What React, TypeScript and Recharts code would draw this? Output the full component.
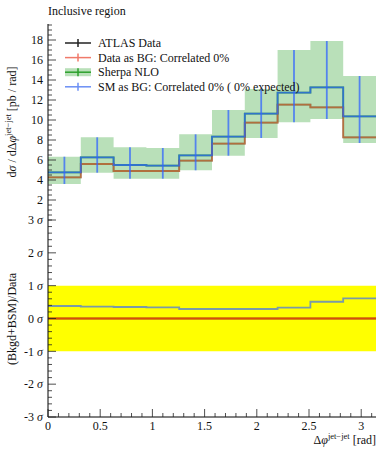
import React from "react";
import { ComposedChart, Line, Area, Scatter, ErrorBar, XAxis, YAxis, ReferenceArea } from "recharts";

// bin edges in delta phi (rad), 10 bins up to pi
const edges = [0, 0.3142, 0.6283, 0.9425, 1.2566, 1.5708, 1.885, 2.1991, 2.5133, 2.8274, 3.1416];
const centers = [0.1571, 0.4712, 0.7854, 1.0996, 1.4137, 1.7279, 2.042, 2.3562, 2.6704, 2.9845];

// upper panel, pb / rad
const atlas = [4.27, 5.6, 4.9, 4.9, 5.93, 7.63, 9.73, 11.53, 11.27, 8.27];
const sherpa = [4.77, 6.27, 5.5, 5.43, 6.47, 8.33, 10.63, 12.73, 13.27, 10.37];
const sherpaLo = [3.6, 4.73, 4.13, 4.13, 4.97, 6.43, 8.2, 9.77, 10.1, 7.7];
const sherpaHi = [6.33, 8.27, 7.27, 7.2, 8.57, 11.0, 13.1, 17.0, 17.9, 14.4];

// lower panel, significance
const dataAsBgSig = [0, 0, 0, 0, 0, 0, 0, 0, 0, 0];
const smAsBgSig = [0.38, 0.36, 0.35, 0.34, 0.29, 0.29, 0.29, 0.33, 0.51, 0.61];

const upperMajor = [2, 4, 6, 8, 10, 12, 14, 16, 18];
const lowerMajor = [-3, -2, -1, 0, 1, 2, 3];
const xMajor = [0, 0.5, 1, 1.5, 2, 2.5, 3];

const upperTicks = Array.from({ length: 40 }, (_, i) => i * 0.5);
const lowerTicks = Array.from({ length: 31 }, (_, i) => Math.round((-3 + i * 0.2) * 10) / 10);
const xTicks = Array.from({ length: 32 }, (_, i) => Math.round(i) / 10);

const FONT = "'Liberation Serif', 'DejaVu Serif', serif";
const TXT = { fontFamily: FONT };
const RED = "#e8702a";
const BLUE = "#3366ff";
const GREEN = "#2ca02c";
const PI = 3.1416;

const pick = (arr: number[], i: number) => arr[Math.min(i, arr.length - 1)];

const upperRows = edges.map((x, i) => ({
  x,
  atlas: pick(atlas, i),
  sherpa: pick(sherpa, i),
  band: [pick(sherpaLo, i), pick(sherpaHi, i)],
}));
const upperErr = centers.map((x, i) => ({
  x,
  y: sherpa[i],
  err: [sherpa[i] - sherpaLo[i], sherpaHi[i] - sherpa[i]],
}));
const lowerRows = edges.map((x, i) => ({
  x,
  data: pick(dataAsBgSig, i),
  sm: pick(smAsBgSig, i),
}));

const isIn = (list: number[], v: number) => list.some((m) => Math.abs(m - v) < 1e-6);

function yTick(side: "left" | "right", majors: number[], fmt?: (v: number) => React.ReactNode) {
  return (p: any) => {
    const v = p.payload.value;
    const major = isIn(majors, v);
    const len = major ? 8 : 4;
    const dx = side === "left" ? len : -len;
    return (
      <g>
        <line x1={p.x} x2={p.x + dx} y1={p.y} y2={p.y} stroke="#222" strokeWidth={0.8} />
        {side === "left" && major && fmt ? (
          <text x={p.x - 5} y={p.y} dy="0.35em" textAnchor="end" style={TXT} fontSize={12} fill="#111">
            {fmt(v)}
          </text>
        ) : null}
      </g>
    );
  };
}

function xTick(side: "top" | "bottom", labels: boolean, both?: boolean) {
  return (p: any) => {
    const v = p.payload.value;
    const major = isIn(xMajor, v);
    const len = major ? 8 : 4;
    const dy = side === "bottom" ? -len : len;
    return (
      <g>
        <line x1={p.x} x2={p.x} y1={both ? p.y - dy * 0.5 : p.y} y2={p.y + dy} stroke="#222" strokeWidth={0.8} />
        {labels && major ? (
          <text x={p.x} y={p.y + 13} textAnchor="middle" style={TXT} fontSize={12} fill="#111">
            {String(Math.round(v * 10) / 10)}
          </text>
        ) : null}
      </g>
    );
  };
}

const sigLabel = (v: number) => (
  <>
    {v}
    <tspan fontStyle="italic"> σ</tspan>
  </>
);

function LegendBox() {
  const rows = [
    { label: "ATLAS Data", color: "#222", band: false },
    { label: "Data as BG: Correlated 0%", color: "#f07a6a", band: false },
    { label: "Sherpa NLO", color: GREEN, band: true },
    { label: "SM as BG: Correlated 0% ( 0% expected)", color: "#6b8ff5", band: false },
  ];
  return (
    <g>
      {rows.map((r, i) => {
        const y = 43 + i * 14.6;
        return (
          <g key={r.label}>
            {r.band ? <rect x={65} y={y - 4} width={26} height={8} fill={GREEN} fillOpacity={0.33} /> : null}
            <line x1={65} x2={91} y1={y} y2={y} stroke={r.color} strokeWidth={1.5} />
            <line x1={78} x2={78} y1={y - 4} y2={y + 4} stroke={r.color} strokeWidth={1.5} />
            <text x={98} y={y + 4} style={TXT} fontSize={12} fill="#111">
              {r.label}
            </text>
          </g>
        );
      })}
    </g>
  );
}

export default function App() {
  return (
    <div style={{ position: "absolute", left: 0, top: 0, width: 389, height: 450, background: "#fff", fontFamily: FONT }}>
      <div style={{ position: "absolute", left: 0, top: 0 }}>
        <ComposedChart width={389} height={230} data={upperRows} margin={{ top: 24, right: 13, bottom: 10, left: 0 }}>
          <XAxis xAxisId="b" dataKey="x" type="number" domain={[0, PI]} allowDataOverflow ticks={xTicks} interval={0}
            height={0} tickSize={0} tickMargin={0} stroke="#000" tick={xTick("bottom", false, true)} />
          <XAxis xAxisId="t" orientation="top" dataKey="x" type="number" domain={[0, PI]} allowDataOverflow ticks={xTicks}
            interval={0} height={0} tickSize={0} tickMargin={0} stroke="#000" tick={xTick("top", false)} />
          <YAxis yAxisId="l" type="number" domain={[0, 19.6]} allowDataOverflow ticks={upperTicks} interval={0} width={48}
            tickSize={0} tickMargin={0} stroke="#000" tick={yTick("left", upperMajor, (v) => String(v))} />
          <YAxis yAxisId="r" orientation="right" type="number" domain={[0, 19.6]} allowDataOverflow ticks={upperTicks}
            interval={0} width={0} tickSize={0} tickMargin={0} stroke="#000" tick={yTick("right", upperMajor)} />
          <Area xAxisId="b" yAxisId="l" type="stepAfter" dataKey="band" stroke="none" fill={GREEN} fillOpacity={0.33}
            isAnimationActive={false} />
          <Line xAxisId="b" yAxisId="l" type="stepAfter" dataKey="sherpa" stroke={GREEN} strokeWidth={1.8} dot={false}
            isAnimationActive={false} />
          <Line xAxisId="b" yAxisId="l" type="stepAfter" dataKey="atlas" stroke="#000" strokeOpacity={0.5} strokeWidth={1.8}
            dot={false} isAnimationActive={false} />
          <Line xAxisId="b" yAxisId="l" type="stepAfter" dataKey="atlas" stroke={RED} strokeOpacity={0.6} strokeWidth={1.8}
            dot={false} isAnimationActive={false} />
          <Line xAxisId="b" yAxisId="l" type="stepAfter" dataKey="sherpa" stroke={BLUE} strokeOpacity={0.75} strokeWidth={1.8}
            dot={false} isAnimationActive={false} />
          <Scatter xAxisId="b" yAxisId="l" data={upperErr} dataKey="y" shape={() => <g />} isAnimationActive={false}>
            <ErrorBar dataKey="err" direction="y" width={0} stroke={BLUE} strokeOpacity={0.75} strokeWidth={1.8} />
          </Scatter>
        </ComposedChart>
      </div>
      <div style={{ position: "absolute", left: 0, top: 210 }}>
        <ComposedChart width={389} height={240} data={lowerRows} margin={{ top: 10, right: 13, bottom: 0, left: 0 }}>
          <XAxis xAxisId="b" dataKey="x" type="number" domain={[0, PI]} allowDataOverflow ticks={xTicks} interval={0}
            height={33} tickSize={0} tickMargin={0} stroke="#000" tick={xTick("bottom", true)} />
          <XAxis xAxisId="t" orientation="top" dataKey="x" type="number" domain={[0, PI]} allowDataOverflow ticks={xTicks}
            interval={0} height={0} tickSize={0} tickMargin={0} stroke="#000" tick={xTick("top", false)} />
          <YAxis yAxisId="l" type="number" domain={[-3, 3]} allowDataOverflow ticks={lowerTicks} interval={0} width={48}
            tickSize={0} tickMargin={0} stroke="#000" tick={yTick("left", lowerMajor, sigLabel)} />
          <YAxis yAxisId="r" orientation="right" type="number" domain={[-3, 3]} allowDataOverflow ticks={lowerTicks}
            interval={0} width={0} tickSize={0} tickMargin={0} stroke="#000" tick={yTick("right", lowerMajor)} />
          <ReferenceArea xAxisId="b" yAxisId="l" x1={0} x2={PI} y1={-1} y2={1} fill="#ffff00" fillOpacity={1} stroke="none" />
          <Line xAxisId="b" yAxisId="l" type="stepAfter" dataKey="data" stroke="#000" strokeOpacity={0.5} strokeWidth={1.8}
            dot={false} isAnimationActive={false} />
          <Line xAxisId="b" yAxisId="l" type="stepAfter" dataKey="data" stroke="#ff3311" strokeOpacity={0.7} strokeWidth={1.8}
            dot={false} isAnimationActive={false} />
          <Line xAxisId="b" yAxisId="l" type="stepAfter" dataKey="sm" stroke={BLUE} strokeOpacity={0.65} strokeWidth={1.8}
            dot={false} isAnimationActive={false} />
        </ComposedChart>
      </div>
      <svg width={389} height={450} style={{ position: "absolute", left: 0, top: 0, pointerEvents: "none" }}>
        <text x={48} y={15} style={TXT} fontSize={12} fill="#111">Inclusive region</text>
        <text transform="translate(16,122) rotate(-90)" textAnchor="middle" style={TXT} fontSize={12} fill="#111">
          d<tspan fontStyle="italic">σ</tspan> / dΔ<tspan fontStyle="italic">φ</tspan>
          <tspan fontSize={8.5} dy={-5}>jet−jet</tspan>
          <tspan dy={5}> [pb / rad]</tspan>
        </text>
        <text transform="translate(16,319) rotate(-90)" textAnchor="middle" style={TXT} fontSize={12} fill="#111">
          (Bkgd+BSM)/Data
        </text>
        <text x={376} y={444} textAnchor="end" style={TXT} fontSize={12} fill="#111">
          Δ<tspan fontStyle="italic">φ</tspan>
          <tspan fontSize={8.5} dy={-5}>jet−jet</tspan>
          <tspan dy={5}> [rad]</tspan>
        </text>
        <LegendBox />
      </svg>
    </div>
  );
}
